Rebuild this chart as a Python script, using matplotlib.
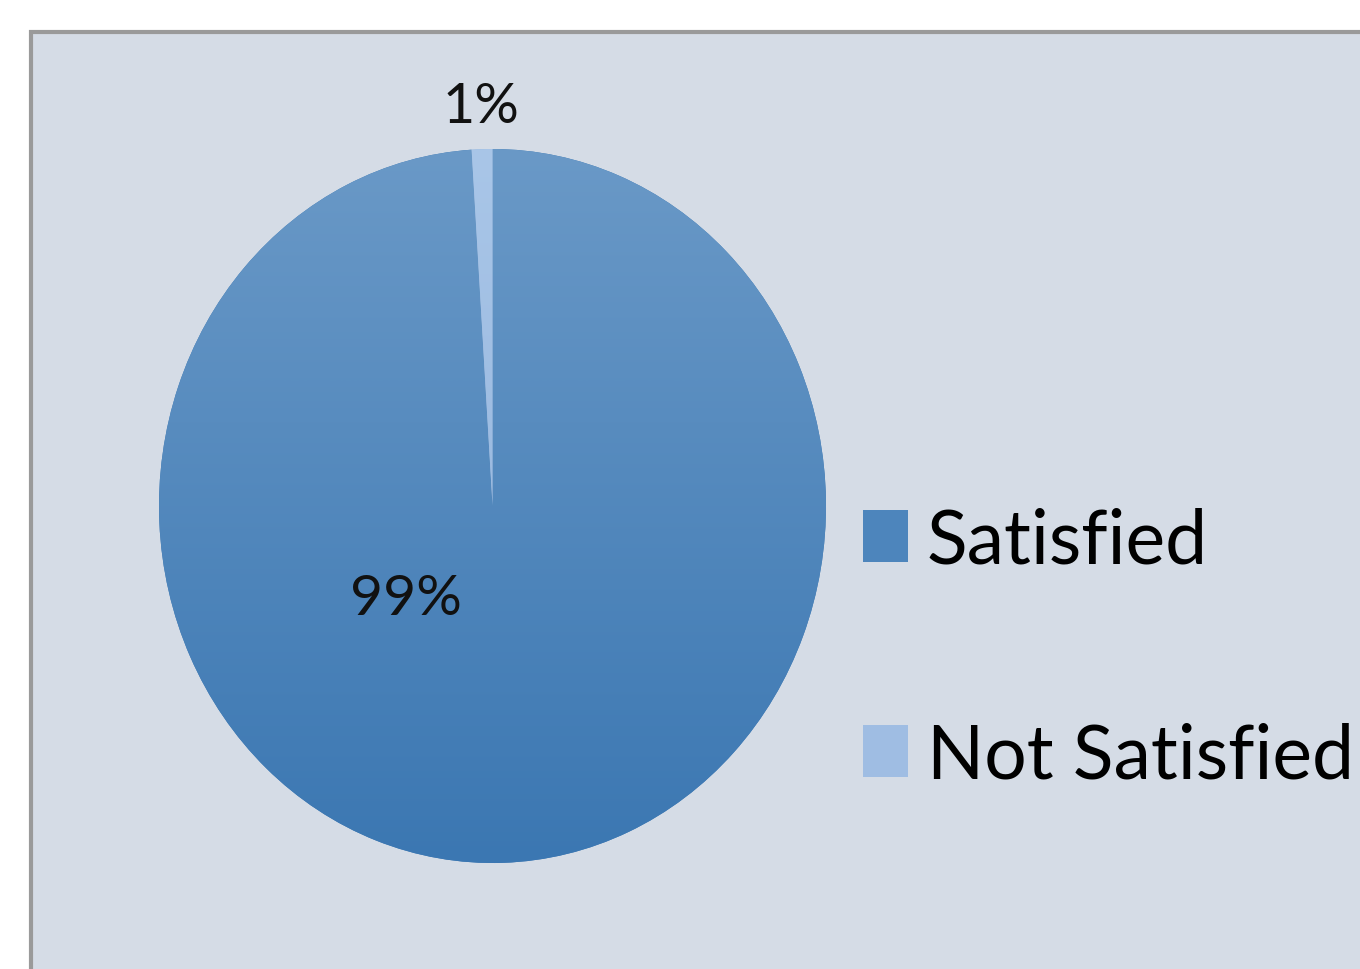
import numpy as np
import matplotlib.pyplot as plt
from matplotlib.patches import Rectangle
from matplotlib.colors import LinearSegmentedColormap

plt.rcParams['font.family'] = ['Lato', 'DejaVu Sans']

labels = ['Satisfied', 'Not Satisfied']
values = [99, 1]
pct_text = ['99%', '1%']

# gradient ends (top -> bottom) for each slice
grad_top = ['#6a99c7', '#a9c6e8']
grad_bot = ['#3b77b2', '#8eafd9']
BG = '#d5dce6'

fig = plt.figure(figsize=(13.6, 9.7), dpi=100, facecolor='white')

# chart area background with gray border (cropped on right/bottom)
fig.patches.append(Rectangle((31 / 1360, -0.05), 1.1, (970 - 33) / 970 + 0.05,
                             transform=fig.transFigure, facecolor=BG,
                             edgecolor='#9a9a9a', linewidth=3.0, zorder=-5))

ax = fig.add_axes([159 / 1360, 106 / 970, 667 / 1360, 714 / 970])
ax.set_zorder(2)
wedges, _ = ax.pie(values, startangle=90, counterclock=False,
                   colors=grad_bot, wedgeprops=dict(linewidth=0))
ax.set_aspect('auto')
ax.axis('off')

# vertical gradient clipped to each wedge
for w, c0, c1 in zip(wedges, grad_top, grad_bot):
    cmap = LinearSegmentedColormap.from_list('g', [c1, c0])
    grad = np.linspace(0, 1, 256).reshape(-1, 1)
    im = ax.imshow(grad, cmap=cmap, extent=[-1, 1, -1, 1], origin='lower',
                   aspect='auto', zorder=2)
    im.set_clip_path(w)
ax.set_xlim(-1, 1)
ax.set_ylim(-1, 1)

# percentage labels
ax.text(-0.26, -0.26, pct_text[0], fontsize=41, ha='center', va='center',
        color='#111111', zorder=5)
ang = np.deg2rad(90 + values[1] / sum(values) * 180)
ax.text(1.12 * np.cos(ang), 1.12 * np.sin(ang), pct_text[1], fontsize=40,
        ha='center', va='center', color='#111111', zorder=5, clip_on=False)

# legend
handles = [Rectangle((0, 0), 1, 1, facecolor=c, edgecolor='none')
           for c in ['#4d85bc', '#9fbde3']]
fig.legend(handles, labels, loc='upper left', bbox_to_anchor=(863 / 1360, 1 - 507 / 970),
           frameon=False, fontsize=54, handlelength=0.6, handleheight=0.69,
           handletextpad=0.25, labelspacing=1.95, borderaxespad=0, borderpad=0)

fig.savefig('out.png', dpi=100, facecolor='white')
